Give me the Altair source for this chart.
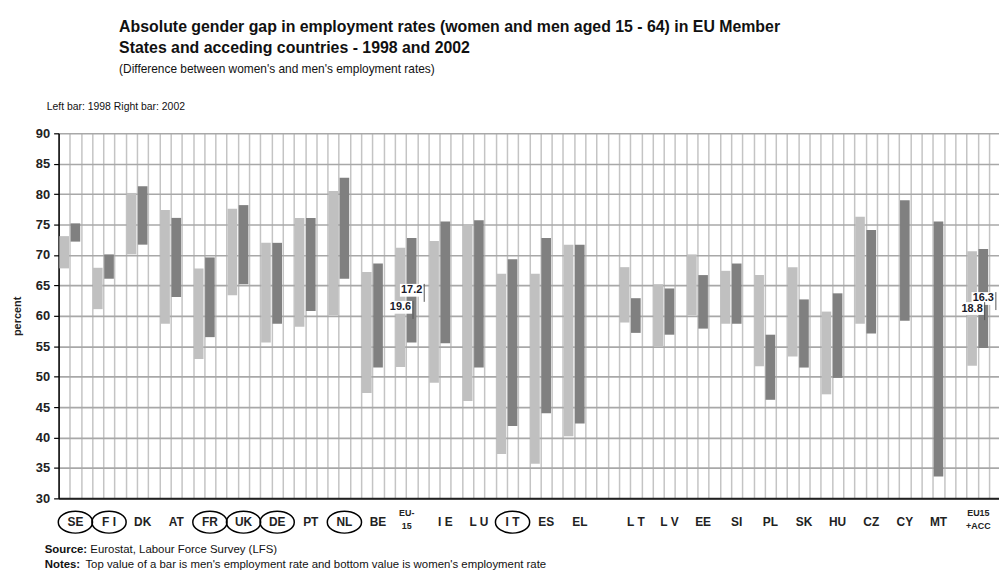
import altair as alt
import pandas as pd

# ---------------- data ----------------
labels = ["SE", "F I", "DK", "AT", "FR", "UK", "DE", "PT", "NL", "BE", "EU-\n15",
          "I E", "L U", "I T", "ES", "EL",
          "L T", "L V", "EE", "SI", "PL", "SK", "HU", "CZ", "CY", "MT", "EU15\n+ACC"]
circled = [True, True, False, False, True, True, True, False, True, False, False,
           False, False, True, False, False,
           False, False, False, False, False, False, False, False, False, False, False]
men_1998 = [73.1, 67.9, 80.2, 77.4, 67.8, 77.6, 72.0, 76.1, 80.5, 67.2, 71.2,
            72.3, 74.8, 66.9, 66.9, 71.7,
            68.0, 65.2, 70.1, 67.4, 66.7, 68.0, 60.7, 76.3, None, None, 70.6]
women_1998 = [67.8, 61.1, 70.1, 58.7, 52.9, 63.4, 55.6, 58.2, 60.1, 47.3, 51.6,
              49.0, 46.0, 37.3, 35.7, 40.2,
              58.9, 55.0, 60.1, 58.7, 51.7, 53.3, 47.1, 58.7, None, None, 51.8]
men_2002 = [75.2, 70.1, 81.3, 76.1, 69.6, 78.2, 72.0, 76.1, 82.7, 68.6, 72.8,
            75.5, 75.7, 69.3, 72.8, 71.7,
            62.9, 64.5, 66.7, 68.6, 56.9, 62.7, 63.7, 74.1, 79.0, 75.5, 71.0]
women_2002 = [72.2, 66.1, 71.7, 63.1, 56.5, 65.2, 58.7, 60.8, 66.1, 51.5, 55.6,
              55.5, 51.5, 41.9, 44.0, 42.3,
              57.2, 56.9, 57.9, 58.7, 46.2, 51.5, 49.8, 57.1, 59.2, 33.6, 54.7]
gap_label_1998 = {"EU-\n15": "19.6", "EU15\n+ACC": "18.8"}
gap_label_2002 = {"EU-\n15": "17.2", "EU15\n+ACC": "16.3"}
extra_space_before = {"L T": 2, "EU15\n+ACC": 1}
y_ticks = list(range(30, 91, 5))

# ---------------- layout of slots ----------------
starts = []
pos = 0
for lab in labels:
    pos += extra_space_before.get(lab, 0)
    starts.append(pos)
    pos += 3
n_cells = pos - 1 + 0.9

inset = 0.07
bar_rows, lab_rows, gap_rows = [], [], []
for i, lab in enumerate(labels):
    s = starts[i]
    if men_1998[i] is not None:
        bar_rows.append(dict(xa=s + inset, xb=s + 1 - inset, ya=women_1998[i], yb=men_1998[i], year="1998"))
    if men_2002[i] is not None:
        bar_rows.append(dict(xa=s + 1 + inset, xb=s + 2 - inset, ya=women_2002[i], yb=men_2002[i], year="2002"))
    lab_rows.append(dict(xa=s + 1.5, lab=lab, circ=circled[i], multi="\n" in lab))
    if lab in gap_label_1998:
        mid = (men_1998[i] + women_1998[i]) / 2
        gap_rows.append(dict(xc=s + 0.5, ym=mid, t=gap_label_1998[lab]))
        mid2 = (men_2002[i] + women_2002[i]) / 2
        gap_rows.append(dict(xc=s + 1.5, ym=mid2, t=gap_label_2002[lab]))

bars_df = pd.DataFrame(bar_rows)
lab_df = pd.DataFrame(lab_rows)
gap_df = pd.DataFrame(gap_rows)
gap_df["xa"] = gap_df["xc"] - 1.05
gap_df["xb"] = gap_df["xc"] + 1.05
gap_df["ya"] = gap_df["ym"] - 1.05
gap_df["yb"] = gap_df["ym"] + 1.05
gap_df["xr"] = gap_df["xc"] + 1.12
gap_df["yr"] = gap_df["ym"] - 1.9

FONT = "Liberation Sans"
x_scale = alt.Scale(domain=[0, n_cells], nice=False, zero=False)
y_scale = alt.Scale(domain=[30, 90], nice=False, zero=False)

x_axis = alt.Axis(values=list(range(0, int(n_cells) + 1)), grid=True, labels=False,
                  ticks=False, title=None, domainColor="#202020", domainWidth=2,
                  gridColor="#c4c4c4", gridWidth=1.5)
y_axis = alt.Axis(values=y_ticks, grid=True, gridColor="#a8a8a8", gridWidth=1.6,
                  domainColor="black", domainWidth=1.5, tickColor="black", tickSize=5,
                  tickWidth=1.2, labelFont=FONT, labelFontSize=13, labelFontWeight="bold",
                  labelColor="#222222", labelPadding=4,
                  title="percent", titleFont=FONT, titleFontSize=11, titleFontWeight="bold",
                  titleColor="#222222", titleAngle=270, titleX=-41, titleY=184,
                  titleAlign="center", titleBaseline="middle")

X = lambda f: alt.X(f, scale=x_scale, axis=x_axis)
Y = lambda f: alt.Y(f, scale=y_scale, axis=y_axis)

bars = alt.Chart(bars_df).mark_rect().encode(
    x=X("xa:Q"), x2="xb:Q", y=Y("ya:Q"), y2="yb:Q",
    color=alt.Color("year:N", scale=alt.Scale(domain=["1998", "2002"], range=["#c0c0c0", "#808080"]),
                    legend=None),
)

# category labels
single = alt.Chart(lab_df).transform_filter("!datum.multi").mark_text(
    font=FONT, fontSize=12, fontWeight="bold", color="#222222", baseline="middle", align="center"
).encode(x=X("xa:Q"), y=alt.value(392), text="lab:N")

multi = alt.Chart(lab_df).transform_filter("datum.multi").mark_text(
    font=FONT, fontSize=9, fontWeight="bold", color="#222222", baseline="middle", align="center",
    lineBreak="\n", lineHeight=13, dx=-5
).encode(x=X("xa:Q"), y=alt.value(383), text="lab:N")

ellipse = "M -1 0 A 1 0.64 0 1 1 1 0 A 1 0.64 0 1 1 -1 0 Z"
circles = alt.Chart(lab_df).transform_filter("datum.circ").mark_point(
    shape=ellipse, size=1190, filled=False, stroke="black", strokeWidth=1.5, opacity=1
).encode(x=X("xa:Q"), y=alt.value(392))

# gap value labels
gap_box = alt.Chart(gap_df).mark_rect(color="white").encode(
    x=X("xa:Q"), x2="xb:Q", y=Y("ya:Q"), y2="yb:Q")
gap_line = alt.Chart(gap_df).mark_rule(color="#555555", strokeWidth=1).encode(
    x=X("xr:Q"), y=Y("yr:Q"), y2="yb:Q")
gap_text = alt.Chart(gap_df).mark_text(
    font=FONT, fontSize=11, fontWeight="bold", color="#1a1a2a", baseline="middle", align="center"
).encode(x=X("xc:Q"), y=Y("ym:Q"), text="t:N")


def txt(s, x, y, size, weight="normal", color="#111111"):
    return alt.Chart(pd.DataFrame({"t": [s]})).mark_text(
        font=FONT, fontSize=size, fontWeight=weight, color=color, align="left", baseline="middle"
    ).encode(x=alt.value(x), y=alt.value(y), text="t:N")


texts = [
    txt("Absolute gender gap in employment rates (women and men aged 15 - 64) in EU Member", 61, -107, 16, "bold"),
    txt("States and acceding countries - 1998 and 2002", 61, -86, 16, "bold"),
    txt("(Difference between women's and men's employment rates)", 61, -65, 12),
    txt("Left bar: 1998   Right bar: 2002", -12, -26, 10.5),
    txt("Source:", -14, 420, 11.5, "bold"),
    txt("Eurostat, Labour Force Survey (LFS)", 32, 420, 11.5),
    txt("Notes:", -14, 435, 11.5, "bold"),
    txt("Top value of a bar is men's employment rate and bottom value is women's employment rate", 27, 435, 11.5),
]

chart = alt.layer(bars, gap_box, gap_line, gap_text, single, multi, circles, *texts).properties(
    width=948, height=368,
    padding={"left": 51, "top": 124, "right": 0, "bottom": 84},
    autosize=alt.AutoSizeParams(type="none"),
).configure(font=FONT).configure_view(strokeWidth=0)

chart.save("out.html", embed_options={"renderer": "svg", "actions": False})
